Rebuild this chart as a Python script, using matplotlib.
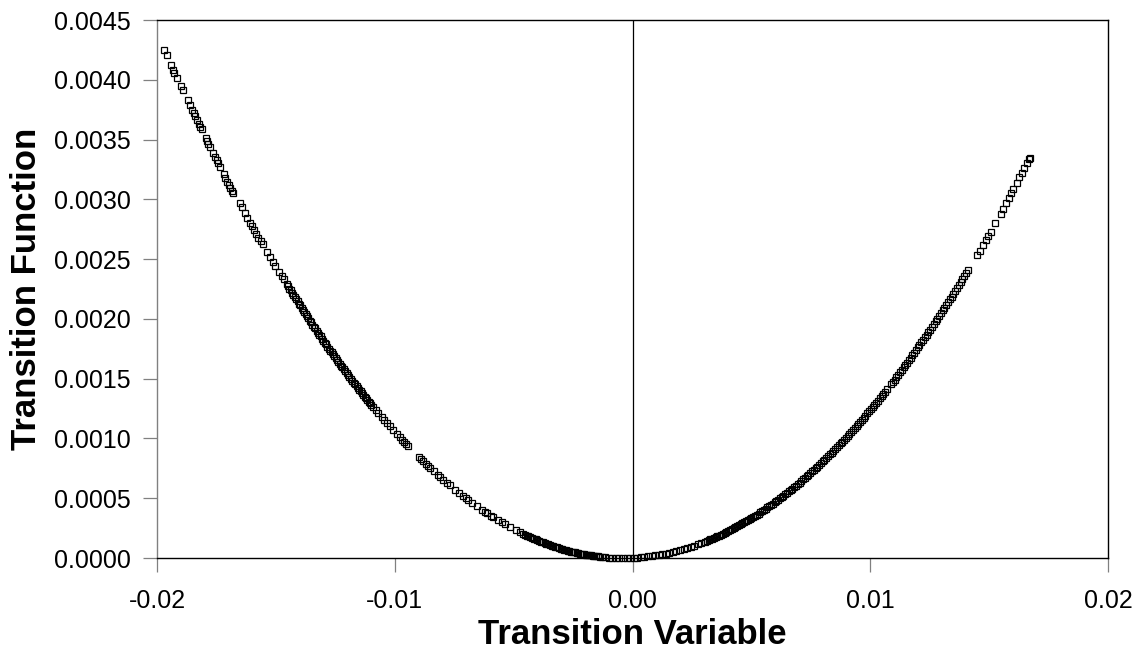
import matplotlib
matplotlib.use("Agg")
import matplotlib.pyplot as plt
import numpy as np
from matplotlib.ticker import FormatStrFormatter

plt.rcParams['font.family'] = ['Liberation Sans', 'DejaVu Sans']

# values, x and y both in units of 1e-3
# left branch, sparse upper part
upper_left_x = [-19.71, -19.58, -19.41, -19.33, -19.28, -19.16, -18.99, -18.91, -18.70, -18.61,
                -18.53, -18.44, -18.40, -18.32, -18.23, -18.19, -18.11,
                -17.94, -17.90, -17.86, -17.77, -17.64, -17.56, -17.48, -17.43, -17.35,
                -17.18, -17.14, -17.06, -16.97, -16.93, -16.85, -16.80,
                -16.51, -16.42, -16.30, -16.21, -16.09, -16.00, -15.92, -15.84, -15.75,
                -15.63, -15.54, -15.37, -15.25, -15.12, -15.04, -14.87, -14.74, -14.66]
upper_left_y = [4.249, 4.207, 4.123, 4.082, 4.057, 4.015, 3.948, 3.914, 3.831, 3.789,
                3.747, 3.722, 3.697, 3.663, 3.630, 3.605, 3.588,
                3.513, 3.488, 3.463, 3.438, 3.387, 3.354, 3.329, 3.304, 3.270,
                3.212, 3.178, 3.145, 3.120, 3.095, 3.070, 3.053,
                2.969, 2.936, 2.886, 2.844, 2.802, 2.777, 2.743, 2.710, 2.676,
                2.651, 2.626, 2.559, 2.518, 2.476, 2.442, 2.392, 2.359, 2.334]

# left branch, dense band
band_left_x = [-14.55, -14.49, -14.43, -14.38, -14.32, -14.26, -14.20, -14.15, -14.09, -14.03,
               -13.98, -13.92, -13.86, -13.80, -13.75, -13.69, -13.63, -13.57, -13.52, -13.46,
               -13.40, -13.35, -13.29, -13.23, -13.17, -13.12, -13.06, -13.00, -12.94, -12.89,
               -12.83, -12.77, -12.71, -12.66, -12.60, -12.54, -12.48, -12.43, -12.37, -12.31,
               -12.25, -12.20, -12.14, -12.08, -12.02, -11.97, -11.91, -11.85, -11.78, -11.72,
               -11.66, -11.60, -11.55, -11.49, -11.43, -11.37, -11.32, -11.26, -11.20, -11.15,
               -11.09, -11.03, -10.98, -10.92,
               -10.80, -10.70, -10.55, -10.45, -10.33, -10.20, -10.07, -9.91, -9.80, -9.70,
               -9.60, -9.52, -9.44]
band_left_y = [2.293, 2.273, 2.254, 2.238, 2.219, 2.200, 2.181, 2.165, 2.146, 2.127,
               2.112, 2.093, 2.074, 2.056, 2.041, 2.022, 2.004, 1.986, 1.971, 1.953,
               1.935, 1.920, 1.902, 1.885, 1.867, 1.853, 1.835, 1.818, 1.801, 1.786,
               1.769, 1.752, 1.735, 1.721, 1.704, 1.688, 1.671, 1.657, 1.641, 1.624,
               1.608, 1.594, 1.578, 1.562, 1.546, 1.533, 1.517, 1.501, 1.483, 1.467,
               1.452, 1.436, 1.423, 1.408, 1.393, 1.378, 1.365, 1.350, 1.336, 1.323,
               1.308, 1.294, 1.282, 1.267,
               1.238, 1.215, 1.180, 1.156, 1.129, 1.100, 1.071, 1.036, 1.012, 0.990,
               0.969, 0.952, 0.936]

# left branch, lower part down to the minimum
lower_left_x = [-8.98, -8.90, -8.81, -8.70, -8.60, -8.52, -8.35, -8.20, -8.10, -7.95,
                -7.80, -7.68, -7.47, -7.30, -7.13, -7.00, -6.90, -6.75, -6.55, -6.33,
                -6.20, -6.12, -5.95, -5.87, -5.65, -5.49, -5.35, -5.15, -4.90, -4.73,
                -4.60, -4.45, -4.30, -4.15, -4.00, -3.85, -3.70, -3.55, -3.40, -3.25,
                -3.10, -2.95, -2.80, -2.65, -2.50, -2.35, -2.20, -2.05, -1.90, -1.75,
                -1.60, -1.45, -1.30, -1.15, -1.00, -0.85, -0.70, -0.55, -0.40, -0.25, -0.10]
lower_left_y = [0.843, 0.827, 0.810, 0.789, 0.770, 0.755, 0.724, 0.697, 0.679, 0.653,
                0.627, 0.607, 0.572, 0.545, 0.519, 0.499, 0.484, 0.462, 0.433, 0.403,
                0.385, 0.375, 0.353, 0.343, 0.316, 0.297, 0.281, 0.258, 0.232, 0.215,
                0.202, 0.188, 0.174, 0.161, 0.148, 0.136, 0.125, 0.114, 0.103, 0.093,
                0.083, 0.074, 0.066, 0.058, 0.050, 0.044, 0.037, 0.031, 0.026, 0.021,
                0.016, 0.013, 0.009, 0.006, 0.004, 0.002, 0.001, 0.000, 0.000, 0.000, 0.001]

# extra observations packed in the dark band left of the minimum
trough_left_x = [-4.525, -4.375, -4.225, -4.075, -3.925, -3.775, -3.625, -3.475, -3.325, -3.175,
                 -3.025, -2.875, -2.725, -2.575, -2.425, -2.275, -2.125, -1.975, -1.825, -1.675,
                 -1.525, -1.375]
trough_left_y = [0.195, 0.181, 0.168, 0.155, 0.142, 0.130, 0.119, 0.108, 0.098, 0.088,
                 0.079, 0.070, 0.062, 0.054, 0.047, 0.040, 0.034, 0.028, 0.023, 0.019,
                 0.014, 0.011]

# right branch, from the minimum up to about 0.0107
lower_right_x = [0.05, 0.20, 0.35, 0.50, 0.65, 0.80, 0.95, 1.10, 1.25, 1.40,
                 1.55, 1.70, 1.85, 2.00, 2.15, 2.30, 2.45, 2.60, 2.75, 2.90,
                 3.05, 3.20, 3.35, 3.50, 3.65, 3.80, 3.95, 4.10, 4.25, 4.40,
                 4.55, 4.70, 4.85, 5.00, 5.15, 5.30, 5.45, 5.60, 5.75, 5.90,
                 6.05, 6.20, 6.35, 6.50, 6.65, 6.80, 6.95, 7.10, 7.25, 7.40,
                 7.55, 7.70, 7.85, 8.00, 8.15, 8.30, 8.45, 8.60, 8.75, 8.90,
                 9.05, 9.20, 9.35, 9.50, 9.65, 9.80, 9.95, 10.10, 10.25, 10.40,
                 10.55, 10.70]
lower_right_y = [0.002, 0.004, 0.006, 0.009, 0.013, 0.016, 0.021, 0.026, 0.031, 0.037,
                 0.044, 0.050, 0.058, 0.066, 0.074, 0.083, 0.093, 0.103, 0.114, 0.125,
                 0.136, 0.148, 0.161, 0.174, 0.188, 0.202, 0.217, 0.232, 0.248, 0.264,
                 0.281, 0.298, 0.316, 0.334, 0.353, 0.372, 0.392, 0.412, 0.433, 0.454,
                 0.476, 0.499, 0.522, 0.545, 0.569, 0.594, 0.619, 0.644, 0.670, 0.697,
                 0.724, 0.751, 0.779, 0.808, 0.837, 0.867, 0.897, 0.927, 0.959, 0.990,
                 1.022, 1.055, 1.088, 1.122, 1.156, 1.191, 1.227, 1.262, 1.299, 1.336,
                 1.373, 1.411]

# extra observations packed in the dark band right of the minimum
slope_right_x = [3.125, 3.275, 3.425, 3.575, 3.725, 3.875, 4.025, 4.175, 4.325, 4.475,
                 4.625, 4.775, 4.925, 5.075, 5.225, 5.375, 5.525, 5.675, 5.825, 5.975,
                 6.125, 6.275, 6.425, 6.575, 6.725, 6.875, 7.025, 7.175, 7.325, 7.475,
                 7.625, 7.775, 7.925, 8.075, 8.225, 8.375, 8.525, 8.675, 8.825, 8.975,
                 9.125, 9.275, 9.425, 9.575, 9.725, 9.875, 10.025, 10.175, 10.325, 10.475,
                 10.625]
slope_right_y = [0.142, 0.155, 0.168, 0.181, 0.195, 0.209, 0.224, 0.240, 0.256, 0.272,
                 0.289, 0.307, 0.325, 0.343, 0.362, 0.382, 0.402, 0.423, 0.444, 0.465,
                 0.488, 0.510, 0.533, 0.557, 0.581, 0.606, 0.631, 0.657, 0.683, 0.710,
                 0.737, 0.765, 0.794, 0.822, 0.852, 0.882, 0.912, 0.943, 0.974, 1.006,
                 1.039, 1.072, 1.105, 1.139, 1.174, 1.209, 1.244, 1.280, 1.317, 1.354,
                 1.392]

# right branch, dense band
band_right_x = [10.88, 10.95, 11.02, 11.10, 11.17, 11.25, 11.32, 11.40, 11.47, 11.55,
                11.62, 11.70, 11.77, 11.85, 11.92, 12.00, 12.07, 12.15, 12.22, 12.30,
                12.37, 12.45, 12.52, 12.60, 12.67, 12.75, 12.82, 12.90, 12.97, 13.05,
                13.12, 13.20, 13.27, 13.35, 13.42, 13.50, 13.57, 13.65, 13.72, 13.80,
                13.87, 13.95, 14.03, 14.11]
band_right_y = [1.457, 1.475, 1.493, 1.514, 1.533, 1.554, 1.573, 1.594, 1.613, 1.635,
                1.654, 1.676, 1.696, 1.718, 1.738, 1.761, 1.780, 1.803, 1.824, 1.847,
                1.867, 1.891, 1.911, 1.935, 1.956, 1.980, 2.001, 2.025, 2.047, 2.071,
                2.093, 2.118, 2.140, 2.165, 2.187, 2.212, 2.235, 2.260, 2.283, 2.309,
                2.332, 2.358, 2.384, 2.411]

# right branch, sparse top
upper_right_x = [14.49, 14.62, 14.74, 14.87, 14.95, 15.08, 15.25, 15.50, 15.58, 15.71,
                 15.84, 15.92, 16.00, 16.17, 16.26, 16.38, 16.46, 16.59, 16.68, 16.72]
upper_right_y = [2.534, 2.568, 2.618, 2.660, 2.693, 2.727, 2.802, 2.877, 2.919, 2.969,
                 3.011, 3.053, 3.086, 3.137, 3.187, 3.220, 3.262, 3.304, 3.337, 3.346]

x_ticks = [-0.02, -0.01, 0.0, 0.01, 0.02]
y_ticks = [0.0, 0.0005, 0.0010, 0.0015, 0.0020, 0.0025, 0.0030, 0.0035, 0.0040, 0.0045]

x = np.array(upper_left_x + band_left_x + lower_left_x + trough_left_x
             + lower_right_x + slope_right_x + band_right_x + upper_right_x) * 1e-3
y = np.array(upper_left_y + band_left_y + lower_left_y + trough_left_y
             + lower_right_y + slope_right_y + band_right_y + upper_right_y) * 1e-3

fig = plt.figure(figsize=(11.43, 6.59), dpi=100)
ax = fig.add_axes([157 / 1143, 1 - 558 / 659, 951 / 1143, 538 / 659])

ax.axvline(0, color='black', linewidth=0.9, zorder=1)
ax.plot(x, y, linestyle='none', marker='s', markersize=5.0,
        markerfacecolor='none', markeredgecolor='black',
        markeredgewidth=0.9, clip_on=False, zorder=3)

ax.set_xlim(-0.02, 0.02)
ax.set_ylim(0, 0.0045)
ax.set_xticks(x_ticks)
ax.set_yticks(y_ticks)
ax.xaxis.set_major_formatter(FormatStrFormatter('%.2f'))
ax.yaxis.set_major_formatter(FormatStrFormatter('%.4f'))

# spines: grey value axis, black frame elsewhere
for side in ['top', 'right', 'bottom']:
    ax.spines[side].set_color('black')
    ax.spines[side].set_linewidth(1.0)
ax.spines['left'].set_color('#808080')
ax.spines['left'].set_linewidth(1.0)

ax.tick_params(axis='both', direction='out', length=10, width=0.9,
               color='#808080', labelsize=18)
ax.tick_params(axis='x', pad=12)
ax.tick_params(axis='y', pad=9)

ax.set_xlabel('Transition Variable', fontsize=25, fontweight='bold')
ax.set_ylabel('Transition Function', fontsize=25, fontweight='bold')
ax.xaxis.set_label_coords(0.5, -0.112)
ax.yaxis.set_label_coords(-0.120, 0.5)

fig.savefig('out.png', dpi=100)
